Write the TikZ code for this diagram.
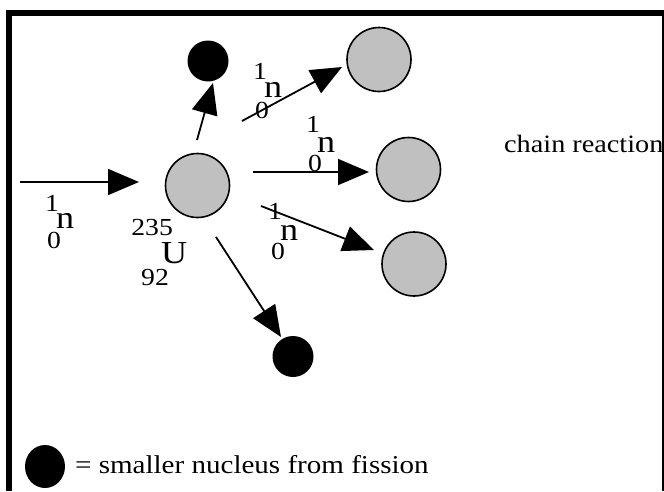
\documentclass[tikz,border=0pt]{standalone}
\usepackage{fontspec}
\setmainfont{Liberation Serif}[FakeStretch=1.13]
\usetikzlibrary{arrows.meta,shapes.geometric}
\definecolor{nucgray}{RGB}{192,192,192}
\newcommand\isoDig{\fontsize{24.5}{24.5}\selectfont}
\newcommand\isoSym{\fontsize{32}{32}\selectfont}
% #1 top, #2 bottom, #3 symbol, #4 top x, #5 top raise, #6 bottom x, #7 bottom lower, #8 symbol x
\newcommand\isoLabel[8]{\rlap{\hspace*{#4pt}\raisebox{#5pt}{\isoDig #1}}\rlap{\hspace*{#6pt}\raisebox{-#7pt}{\isoDig #2}}\hspace*{#8pt}{\isoSym #3}}
\tikzset{
  nuc/.style={circle, draw=black, line width=1.6pt, fill=nucgray, minimum size=64pt, inner sep=0pt},
  frag/.style={circle, fill=black, minimum size=41pt, inner sep=0pt},
  ray/.style={line width=1.8pt, -{Triangle[length=31pt,width=26pt]}},
  iso/.style={inner sep=0pt, anchor=base west},
  txt/.style={inner sep=0pt, anchor=base west},
  bar/.style={fill=black}
}
\begin{document}
\begin{tikzpicture}[x=1pt,y=-1pt]
\useasboundingbox (0,0) rectangle (664,491);
% frame
\fill[bar] (6,10) rectangle (664,16);
\fill[bar] (6,10) rectangle (12,491);
\fill[bar] (662,10) rectangle (664,491);
% nuclei
\node[nuc] (U) at (197.5,185.5) {};
\node[nuc] (c1) at (379,59.5) {};
\node[nuc] (c2) at (408.5,169.5) {};
\node[nuc] (c3) at (414,264) {};
\node[frag] (f1) at (208,61) {};
\node[frag] (f2) at (293,356.5) {};
\node[frag, ellipse, minimum width=40pt, minimum height=43pt] (lg) at (45,466.5) {};
% arrow ends
\coordinate (inS) at (20,182);   \coordinate (inE) at (139,182);
\coordinate (upS) at (197,140);  \coordinate (upE) at (213,83);
\coordinate (urS) at (242,121);  \coordinate (urE) at (342,67);
\coordinate (mS) at (253,172);   \coordinate (mE) at (369,172);
\coordinate (lrS) at (261,206);  \coordinate (lrE) at (374,250);
\coordinate (dS) at (216,237);   \coordinate (dE) at (281,337);
\draw[ray] (inS) -- (inE);
\draw[ray] (upS) -- (upE);
\draw[ray] (urS) -- (urE);
\draw[ray] (mS) -- (mE);
\draw[ray] (lrS) -- (lrE);
\draw[ray] (dS) -- (dE);
% neutron labels
\node[iso] (na) at (44,228.4)  {\isoLabel{1}{0}{n}{1}{17.1}{3}{19.9}{12}};
\node[iso] (nb) at (252,97.4)  {\isoLabel{1}{0}{n}{1}{18.1}{3}{20.9}{12}};
\node[iso] (nc) at (305,152.4) {\isoLabel{1}{0}{n}{1}{20.1}{3}{18.9}{12}};
\node[iso] (nd) at (268,240.4) {\isoLabel{1}{0}{n}{0}{21.1}{3}{18.9}{12}};
% uranium label
\node[iso] (nu) at (131.2,263.6) {\isoLabel{235}{92}{U}{0}{28.3}{9.8}{21.7}{29.8}};
% texts
\node[txt, font=\fontsize{25}{25}\selectfont] (chain) at (504,152) {chain reaction};
\node[txt, font=\fontsize{25.7}{25.7}\selectfont] (legend) at (75,473) {= smaller nucleus from fission};
\end{tikzpicture}
\end{document}
